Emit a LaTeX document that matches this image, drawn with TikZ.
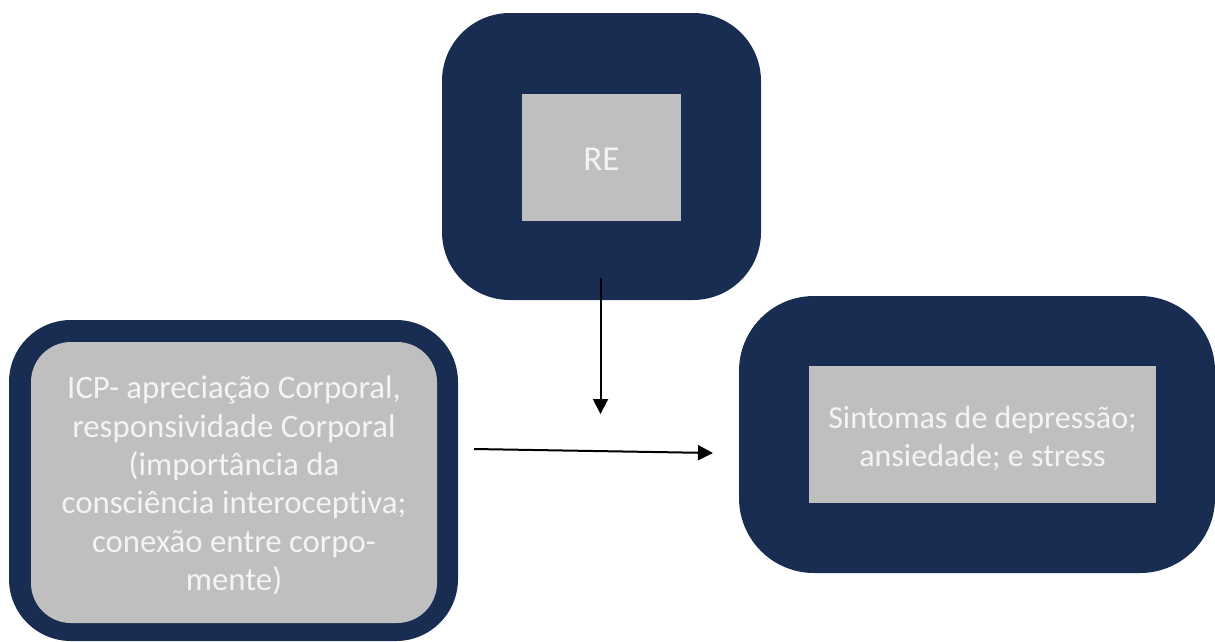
\documentclass[tikz,border=0pt]{standalone}
\usepackage{fontspec}
\setmainfont{Carlito}[Ligatures=NoCommon]
\usetikzlibrary{arrows.meta}
\definecolor{navy}{HTML}{192C51}
\definecolor{boxgray}{HTML}{BFBFBF}
\definecolor{txt}{HTML}{F4F4F4}
\tikzset{
  outerbox/.style={fill=navy, draw=none, inner sep=0pt},
  innerbox/.style={fill=boxgray, draw=none, inner sep=0pt},
  boxtext/.style={inner sep=0pt, text=txt, align=center},
  arr/.style={line width=2pt, -{Triangle[length=15pt,width=15pt]}}
}
\begin{document}
\begin{tikzpicture}[x=1pt,y=-1pt]
\useasboundingbox (0,0) rectangle (1215,641);
% top
\node[outerbox, rounded corners=68pt, minimum width=319pt, minimum height=287pt] (reout) at (601.5,156.5) {};
\node[innerbox, minimum width=159pt, minimum height=127pt] (re) at (601.5,157.5) {};
\node[boxtext, font=\fontsize{35}{42}\selectfont] (retext) at (601.5,159) {RE};
% left
\node[outerbox, rounded corners=62pt, minimum width=449pt, minimum height=321pt] (icpout) at (233.5,480.5) {};
\node[innerbox, rounded corners=40pt, minimum width=406pt, minimum height=281pt] (icp) at (234,482.5) {};
\node[boxtext, font=\fontsize{32.8}{38.4}\selectfont] (icptext) at (234,485.5)
  {ICP- apreciação Corporal,\\responsividade Corporal\\(importância da\\consciência interoceptiva;\\conexão entre corpo-\\mente)};
% right
\node[outerbox, rounded corners=75pt, minimum width=476pt, minimum height=277pt] (sinout) at (977,434.5) {};
\node[innerbox, minimum width=347pt, minimum height=137pt] (sin) at (982.5,434.5) {};
\node[boxtext, font=\fontsize{32}{38.5}\selectfont] (sintext) at (982.5,438.5)
  {Sintomas de depressão;\\ansiedade; e stress};
% arrows
\coordinate (vstart) at (600.5,278);
\coordinate (vend) at (600.5,414);
\coordinate (hstart) at (474,449);
\coordinate (hend) at (713,453);
\draw[arr] (vstart) -- (vend);
\draw[arr] (hstart) -- (hend);
\end{tikzpicture}
\end{document}
